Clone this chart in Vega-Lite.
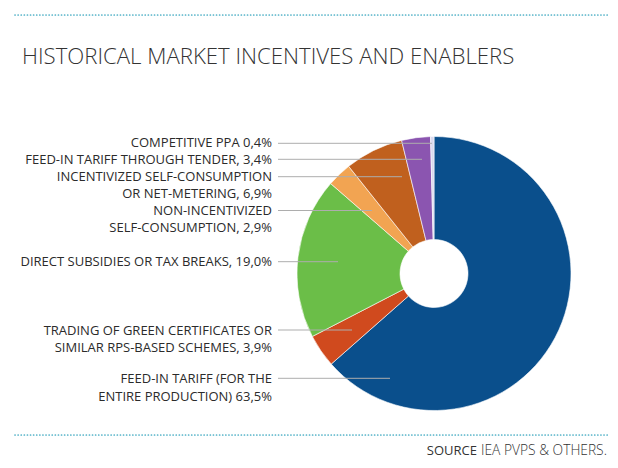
{
  "$schema": "https://vega.github.io/schema/vega-lite/v6.json",
  "width": 618,
  "height": 468,
  "padding": 0,
  "autosize": {"type": "fit", "contains": "padding"},
  "background": "white",
  "config": {"view": {"stroke": null}, "font": "Open Sans"},
  "layer": [
    {
      "data": {"values": [
        {"name": "Feed-in tariff (for the entire production)", "value": 63.5, "ord": 1},
        {"name": "Trading of green certificates or similar RPS-based schemes", "value": 3.9, "ord": 2},
        {"name": "Direct subsidies or tax breaks", "value": 19.0, "ord": 3},
        {"name": "Non-incentivized self-consumption", "value": 2.9, "ord": 4},
        {"name": "Incentivized self-consumption or net-metering", "value": 6.9, "ord": 5},
        {"name": "Feed-in tariff through tender", "value": 3.4, "ord": 6},
        {"name": "Competitive PPA", "value": 0.4, "ord": 7}
      ]},
      "mark": {"type": "arc", "outerRadius": 137, "innerRadius": 34, "stroke": "white", "strokeWidth": 0.6},
      "encoding": {
        "x": {"datum": 434, "type": "quantitative", "scale": {"domain": [0, 618], "nice": false, "zero": false}, "axis": null},
        "y": {"datum": 273.5, "type": "quantitative", "scale": {"domain": [0, 468], "nice": false, "zero": false, "reverse": true}, "axis": null},
        "theta": {"field": "value", "type": "quantitative", "stack": true},
        "order": {"field": "ord", "type": "quantitative"},
        "color": {
          "field": "name", "type": "nominal", "legend": null,
          "scale": {
            "domain": ["Feed-in tariff (for the entire production)", "Trading of green certificates or similar RPS-based schemes", "Direct subsidies or tax breaks", "Non-incentivized self-consumption", "Incentivized self-consumption or net-metering", "Feed-in tariff through tender", "Competitive PPA"],
            "range": ["#0a4f8c", "#d04a1e", "#6bbe48", "#f2a452", "#c0601e", "#8b55b0", "#d9d9ee"]
          }
        }
      }
    },
    {
      "data": {"values": [
        {"ystart": 143.3, "xa": 278, "xb": 432},
        {"ystart": 159.3, "xa": 278, "xb": 422},
        {"ystart": 176.7, "xa": 278, "xb": 402},
        {"ystart": 210.5, "xa": 278, "xb": 372},
        {"ystart": 261.7, "xa": 278, "xb": 338},
        {"ystart": 330, "xa": 278, "xb": 352},
        {"ystart": 378.3, "xa": 278, "xb": 390}
      ]},
      "mark": {"type": "rule", "color": "#adadad", "strokeWidth": 1},
      "encoding": {
        "x": {"field": "xa", "type": "quantitative"},
        "x2": {"field": "xb"},
        "y": {"field": "ystart", "type": "quantitative"}
      }
    },
    {
      "data": {"values": [
        {"label": "COMPETITIVE PPA 0,4%", "ypos": 143.3},
        {"label": "FEED-IN TARIFF THROUGH TENDER, 3,4%", "ypos": 160},
        {"label": "INCENTIVIZED SELF-CONSUMPTION\u00a0", "ypos": 176.7},
        {"label": "OR NET-METERING, 6,9%", "ypos": 194},
        {"label": "NON-INCENTIVIZED\u00a0", "ypos": 211},
        {"label": "SELF-CONSUMPTION, 2,9%", "ypos": 228.3},
        {"label": "DIRECT SUBSIDIES OR TAX BREAKS, 19,0%", "ypos": 262},
        {"label": "TRADING OF GREEN CERTIFICATES OR\u00a0", "ypos": 330.5},
        {"label": "SIMILAR RPS-BASED SCHEMES, 3,9%", "ypos": 348},
        {"label": "FEED-IN TARIFF (FOR THE\u00a0", "ypos": 379},
        {"label": "ENTIRE PRODUCTION) 63,5%", "ypos": 396.5}
      ]},
      "mark": {"type": "text", "align": "right", "baseline": "middle", "fontSize": 13, "color": "#2b2b2b", "font": "Open Sans"},
      "encoding": {
        "x": {"datum": 272, "type": "quantitative"},
        "y": {"field": "ypos", "type": "quantitative"},
        "text": {"field": "label"}
      }
    },
    {
      "data": {"values": [{"t": "HISTORICAL MARKET INCENTIVES AND ENABLERS"}]},
      "mark": {"type": "text", "align": "left", "baseline": "alphabetic", "fontSize": 22.2, "fontWeight": 300, "color": "#333333", "font": "Open Sans"},
      "encoding": {
        "x": {"datum": 22, "type": "quantitative"},
        "y": {"datum": 64, "type": "quantitative"},
        "text": {"field": "t"}
      }
    },
    {
      "data": {"values": [{"yline": 15}, {"yline": 435}]},
      "mark": {"type": "rule", "color": "#4fb0c6", "strokeWidth": 1.7, "strokeDash": [0.1, 3], "strokeCap": "round"},
      "encoding": {
        "x": {"datum": 15, "type": "quantitative"},
        "x2": {"datum": 608},
        "y": {"field": "yline", "type": "quantitative"}
      }
    },
    {
      "data": {"values": [{"t": "SOURCE"}]},
      "mark": {"type": "text", "align": "right", "baseline": "alphabetic", "fontSize": 13, "fontWeight": 400, "color": "#333333", "font": "Open Sans"},
      "encoding": {
        "x": {"datum": 477, "type": "quantitative"},
        "y": {"datum": 455, "type": "quantitative"},
        "text": {"field": "t"}
      }
    },
    {
      "data": {"values": [{"t": "IEA PVPS & OTHERS."}]},
      "mark": {"type": "text", "align": "left", "baseline": "alphabetic", "fontSize": 13.8, "fontWeight": 300, "color": "#333333", "font": "Open Sans"},
      "encoding": {
        "x": {"datum": 481, "type": "quantitative"},
        "y": {"datum": 455, "type": "quantitative"},
        "text": {"field": "t"}
      }
    }
  ]
}
